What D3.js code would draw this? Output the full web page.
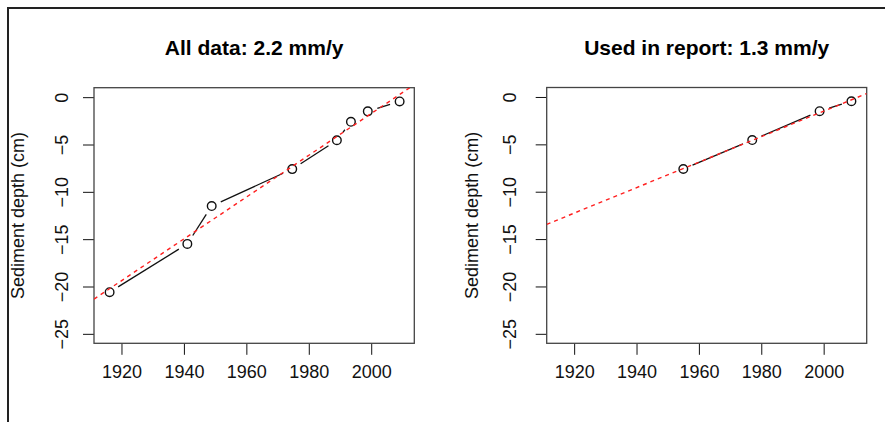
<!DOCTYPE html>
<html><head><meta charset="utf-8">
<script src="https://cdn.jsdelivr.net/npm/d3@7"></script>
<style>
html,body{margin:0;padding:0;background:#fff;}
svg{display:block;font-family:"Liberation Sans",Arial,sans-serif;}
</style></head>
<body><svg id="c" width="885" height="422"></svg>
<script>
// ---- data ----
const titles = ["All data: 2.2 mm/y", "Used in report: 1.3 mm/y"];
const yLabel = "Sediment depth (cm)";
const yearsAll = [1916.2, 1941.1, 1948.9, 1974.7, 1989.0, 1993.5, 1998.9, 2009.1];
const depthAll = [-20.6, -15.5, -11.5, -7.6, -4.55, -2.6, -1.5, -0.45];
const yearsReport = [1955.0, 1977.1, 1998.7, 2008.9];
const depthReport = [-7.6, -4.55, -1.5, -0.45];
const xTicks = [1920, 1940, 1960, 1980, 2000];
const yTicks = [0, -5, -10, -15, -20, -25];
const xLim = [1915, 2010];
const yLim = [-25, 0];

const panels = [
  {title: titles[0], years: yearsAll, depth: depthAll, left: 94, right: 414.3, top: 87.7, bottom: 343.3, tlx: 62.3, ylx: 18},
  {title: titles[1], years: yearsReport, depth: depthReport, left: 546.7, right: 866.7, top: 87.5, bottom: 343.3, tlx: 510.3, ylx: 471.7}
];

const svg = d3.select("#c");
// outer frame
svg.append("path").attr("d", "M8,422 L8,8 L885,8").attr("fill", "none").attr("stroke", "#222").attr("stroke-width", 2);

function ext(l){ const d = (l[1]-l[0])*0.04; return [l[0]-d, l[1]+d]; }

function fit(xs, ys){
  const n = xs.length, mx = d3.mean(xs), my = d3.mean(ys);
  let sxy = 0, sxx = 0;
  for (let i=0;i<n;i++){ sxy += (xs[i]-mx)*(ys[i]-my); sxx += (xs[i]-mx)**2; }
  const b = sxy/sxx; return {b, a: my - b*mx};
}

panels.forEach((p, k) => {
  const x = d3.scaleLinear().domain(ext(xLim)).range([p.left, p.right]);
  const y = d3.scaleLinear().domain(ext(yLim)).range([p.bottom, p.top]);
  const g = svg.append("g");
  const clipId = "clip" + k;
  svg.append("clipPath").attr("id", clipId).append("rect")
    .attr("x", p.left).attr("y", p.top).attr("width", p.right-p.left).attr("height", p.bottom-p.top);

  // title
  g.append("text").attr("x", (p.left+p.right)/2).attr("y", 54.5).attr("text-anchor", "middle")
    .attr("font-weight", "bold").attr("font-size", 21).attr("fill", "#000").text(p.title);

  // x axis
  const xa = g.append("g").attr("transform", `translate(0,${p.bottom})`)
    .call(d3.axisBottom(x).tickValues(xTicks).tickFormat(d3.format("d")).tickSize(11.5).tickSizeOuter(0));
  xa.select(".domain").remove();
  xa.selectAll(".tick line").attr("stroke", "#111").attr("stroke-width", 1);
  xa.selectAll(".tick text").attr("y", 0).attr("dy", 0).attr("transform", "translate(0,35)")
    .attr("font-size", 18).attr("font-family", "Liberation Sans, Arial, sans-serif").attr("fill", "#111");

  // y axis
  const ya = g.append("g").attr("transform", `translate(${p.left},0)`)
    .call(d3.axisLeft(y).tickValues(yTicks).tickFormat(d => d < 0 ? "\u2212" + (-d) : String(d)).tickSize(11).tickSizeOuter(0));
  ya.select(".domain").remove();
  ya.selectAll(".tick line").attr("stroke", "#111").attr("stroke-width", 1);
  ya.selectAll(".tick text").attr("x", 0).attr("dy", 0)
    .attr("transform", `translate(${p.tlx - p.left + 6},0) rotate(-90)`)
    .attr("text-anchor", "middle")
    .attr("font-size", 18).attr("font-family", "Liberation Sans, Arial, sans-serif").attr("fill", "#111");

  // y label
  g.append("text").attr("transform", `translate(${p.ylx + 6},${(p.top+p.bottom)/2}) rotate(-90)`)
    .attr("text-anchor", "middle").attr("font-size", 18).attr("fill", "#111").text(yLabel);

  // box
  g.append("rect").attr("x", p.left).attr("y", p.top).attr("width", p.right-p.left).attr("height", p.bottom-p.top)
    .attr("fill", "none").attr("stroke", "#444").attr("stroke-width", 1.3);

  // connecting segments with gaps (type = "b")
  const pts = p.years.map((v,i) => [x(v), y(p.depth[i])]);
  const gap = 10;
  const segs = [];
  for (let i=0;i<pts.length-1;i++){
    const [x0,y0] = pts[i], [x1,y1] = pts[i+1];
    const L = Math.hypot(x1-x0, y1-y0);
    if (L > 2*gap){
      const ux = (x1-x0)/L, uy = (y1-y0)/L;
      segs.push([x0+ux*gap, y0+uy*gap, x1-ux*gap, y1-uy*gap]);
    }
  }
  g.selectAll("line.seg").data(segs).join("line").attr("class","seg")
    .attr("x1", d=>d[0]).attr("y1", d=>d[1]).attr("x2", d=>d[2]).attr("y2", d=>d[3])
    .attr("stroke", "#111").attr("stroke-width", 1.3);

  // points
  g.selectAll("circle").data(pts).join("circle")
    .attr("cx", d=>d[0]).attr("cy", d=>d[1]).attr("r", 4.3)
    .attr("fill", "none").attr("stroke", "#111").attr("stroke-width", 1.4);

  // regression line
  const f = fit(p.years, p.depth);
  const xd = x.domain();
  g.append("line").attr("clip-path", `url(#${clipId})`)
    .attr("x1", x(xd[0])).attr("y1", y(f.a + f.b*xd[0]))
    .attr("x2", x(xd[1])).attr("y2", y(f.a + f.b*xd[1]))
    .attr("stroke", "#ff2020").attr("stroke-width", 1.4).attr("stroke-dasharray", "4,4");
});
</script></body></html>
